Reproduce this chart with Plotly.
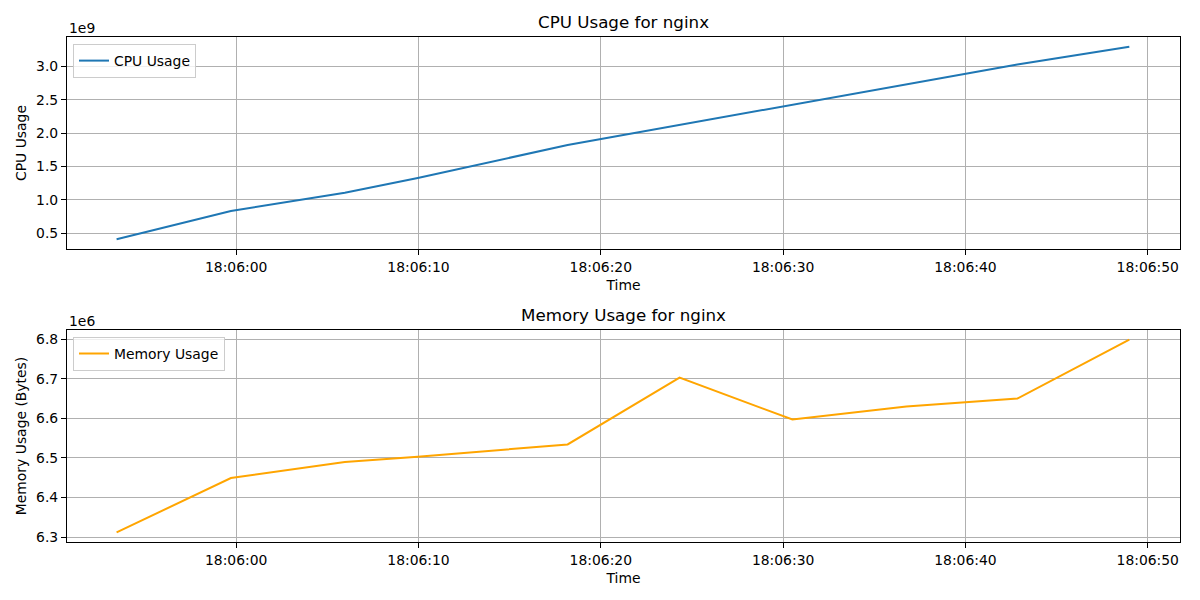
import plotly.graph_objects as go
from plotly.subplots import make_subplots

# ---- data ----
times = [
    "2024-01-01 18:05:53.44", "2024-01-01 18:05:59.71", "2024-01-01 18:06:05.96",
    "2024-01-01 18:06:09.96", "2024-01-01 18:06:18.18", "2024-01-01 18:06:24.32",
    "2024-01-01 18:06:30.51", "2024-01-01 18:06:36.76", "2024-01-01 18:06:42.85",
    "2024-01-01 18:06:48.99",
]
cpu_usage = [0.410e9, 0.834e9, 1.108e9, 1.328e9, 1.822e9, 2.124e9,
             2.428e9, 2.735e9, 3.027e9, 3.293e9]
memory_usage = [6.3118e6, 6.449e6, 6.4897e6, 6.503e6, 6.534e6, 6.703e6,
                6.597e6, 6.630e6, 6.650e6, 6.799e6]

cpu_tickvals = [0.5e9, 1.0e9, 1.5e9, 2.0e9, 2.5e9, 3.0e9]
cpu_ticktext = ["0.5", "1.0", "1.5", "2.0", "2.5", "3.0"]
mem_tickvals = [6.3e6, 6.4e6, 6.5e6, 6.6e6, 6.7e6, 6.8e6]
mem_ticktext = ["6.3", "6.4", "6.5", "6.6", "6.7", "6.8"]

FONT = "DejaVu Sans"
TICK_PX = 13.9
TITLE_PX = 16.7

fig = make_subplots(rows=2, cols=1)

fig.add_trace(go.Scatter(x=times, y=cpu_usage, mode="lines", name="CPU Usage",
                         line=dict(color="#1f77b4", width=2), legend="legend"),
              row=1, col=1)
fig.add_trace(go.Scatter(x=times, y=memory_usage, mode="lines", name="Memory Usage",
                         line=dict(color="#FFA500", width=2), legend="legend2"),
              row=2, col=1)

xrange = ["2024-01-01 18:05:50.72", "2024-01-01 18:06:51.77"]
common_axis = dict(showline=True, mirror=True, linecolor="black", linewidth=1.1,
                   ticks="outside", ticklen=5, tickwidth=1.1, tickcolor="black",
                   showgrid=True, gridcolor="#b0b0b0", gridwidth=1.1, automargin=False,
                   zeroline=False, tickfont=dict(family=FONT, size=TICK_PX, color="black"))

for r in (1, 2):
    fig.update_xaxes(**common_axis, type="date", range=xrange,
                     tick0="2024-01-01 18:06:00", dtick=10000, tickformat="%H:%M:%S",
                     title=dict(text="Time", font=dict(family=FONT, size=TICK_PX, color="black"),
                                standoff=6),
                     row=r, col=1)

fig.update_yaxes(**common_axis, range=[0.265e9, 3.438e9], tickvals=cpu_tickvals,
                 ticktext=cpu_ticktext,
                 title=dict(text="CPU Usage", font=dict(family=FONT, size=TICK_PX, color="black"),
                            standoff=6),
                 row=1, col=1)
fig.update_yaxes(**common_axis, range=[6.2874e6, 6.8234e6], tickvals=mem_tickvals,
                 ticktext=mem_ticktext,
                 title=dict(text="Memory Usage (Bytes)",
                            font=dict(family=FONT, size=TICK_PX, color="black"), standoff=6),
                 row=2, col=1)

fig.update_layout(
    width=1200, height=600,
    margin=dict(l=59, r=28, t=29, b=66, autoexpand=False),
    paper_bgcolor="white", plot_bgcolor="white",
    font=dict(family=FONT, size=TICK_PX, color="black"),
    xaxis=dict(domain=[0, 1]), xaxis2=dict(domain=[0, 1]),
    yaxis=dict(domain=[0.5802, 1.0]), yaxis2=dict(domain=[0.0, 0.4198]),
    legend=dict(x=0.0054, y=0.986, xanchor="left", yanchor="top",
                bgcolor="rgba(255,255,255,0.8)", bordercolor="#cccccc", borderwidth=1,
                itemwidth=30, tracegroupgap=0,
                font=dict(family=FONT, size=TICK_PX, color="black")),
    legend2=dict(x=0.0054, y=0.406, xanchor="left", yanchor="top",
                 bgcolor="rgba(255,255,255,0.8)", bordercolor="#cccccc", borderwidth=1,
                 itemwidth=30, tracegroupgap=0,
                 font=dict(family=FONT, size=TICK_PX, color="black")),
    showlegend=True,
)

annotations = [
    dict(text="CPU Usage for nginx", xref="x domain", yref="y domain", x=0.5, y=1,
         xanchor="center", yanchor="bottom", yshift=3, showarrow=False,
         font=dict(family=FONT, size=TITLE_PX, color="black")),
    dict(text="Memory Usage for nginx", xref="x2 domain", yref="y2 domain", x=0.5, y=1,
         xanchor="center", yanchor="bottom", yshift=3, showarrow=False,
         font=dict(family=FONT, size=TITLE_PX, color="black")),
    dict(text="1e9", xref="x domain", yref="y domain", x=0, y=1,
         xanchor="left", yanchor="bottom", yshift=-1, showarrow=False,
         font=dict(family=FONT, size=TICK_PX, color="black")),
    dict(text="1e6", xref="x2 domain", yref="y2 domain", x=0, y=1,
         xanchor="left", yanchor="bottom", yshift=-1, showarrow=False,
         font=dict(family=FONT, size=TICK_PX, color="black")),
]
fig.update_layout(annotations=annotations)

fig.write_html("out.html")
